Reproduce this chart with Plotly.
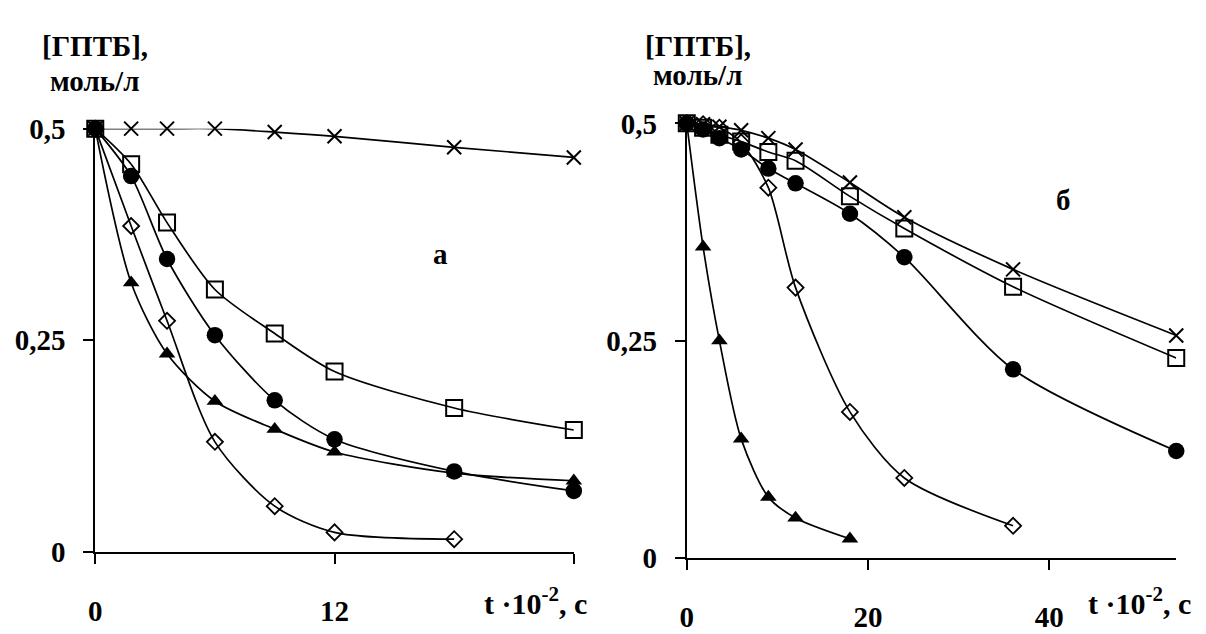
import plotly.graph_objects as go

# ---- data ----
t_a = [0, 1.8, 3.6, 6, 9, 12, 18, 24]
a_cross = [0.5, 0.5, 0.5, 0.5, 0.496, 0.491, 0.478, 0.466]
a_square = [0.5, 0.458, 0.389, 0.31, 0.258, 0.213, 0.17, 0.144]
a_circle = [0.5, 0.444, 0.346, 0.256, 0.179, 0.133, 0.095, 0.072]
a_triangle = [0.5, 0.318, 0.234, 0.178, 0.145, 0.118, 0.093, 0.084]
t_a_diam = [0, 1.8, 3.6, 6, 9, 12, 18]
a_diamond = [0.5, 0.385, 0.273, 0.13, 0.054, 0.023, 0.015]

t_b = [0, 1.8, 3.6, 6, 9, 12, 18, 24, 36, 54]
b_cross = [0.5, 0.499, 0.496, 0.492, 0.483, 0.47, 0.432, 0.392, 0.332, 0.256]
b_square = [0.5, 0.495, 0.487, 0.479, 0.467, 0.457, 0.416, 0.379, 0.312, 0.23]
b_circle = [0.5, 0.493, 0.483, 0.47, 0.448, 0.431, 0.396, 0.346, 0.217, 0.123]
t_b_diam = [0, 1.8, 3.6, 6, 9, 12, 18, 24, 36]
b_diamond = [0.5, 0.499, 0.495, 0.478, 0.426, 0.311, 0.168, 0.092, 0.037]
t_b_tri = [0, 1.8, 3.6, 6, 9, 12, 18]
b_triangle = [0.5, 0.358, 0.25, 0.137, 0.07, 0.046, 0.022]

y_ticks = [0, 0.25, 0.5]
y_ticktext = ["0", "0,25", "0,5"]
xa_ticks = [0, 12, 24]
xa_ticktext = ["0", "12", " "]
xb_ticks = [0, 20, 40]
xb_ticktext = ["0", "20", "40"]

FONT = "Liberation Serif"

fig = go.Figure()

styles = {
    "cross": dict(symbol="x-thin-open", size=14, color="black", line=dict(width=2, color="black")),
    "square": dict(symbol="square-open", size=16, color="black", line=dict(width=2, color="black")),
    "circle": dict(symbol="circle", size=16.5, color="black", line=dict(width=0, color="black")),
    "triangle": dict(symbol="triangle-up", size=14.5, color="black", line=dict(width=0, color="black")),
    "diamond": dict(symbol="diamond-open", size=12.3, color="black", line=dict(width=1.8, color="black")),
}

def add(x, y, kind, xa, ya):
    fig.add_trace(go.Scatter(
        x=x, y=y, mode="lines+markers", xaxis=xa, yaxis=ya,
        line=dict(color="black", width=1.7, shape="spline", smoothing=0.8),
        marker=styles[kind], cliponaxis=False, showlegend=False))

add(t_a, a_cross, "cross", "x", "y")
add(t_a, a_square, "square", "x", "y")
add(t_a, a_circle, "circle", "x", "y")
add(t_a, a_triangle, "triangle", "x", "y")
add(t_a_diam, a_diamond, "diamond", "x", "y")

add(t_b, b_cross, "cross", "x2", "y2")
add(t_b, b_square, "square", "x2", "y2")
add(t_b, b_circle, "circle", "x2", "y2")
add(t_b_diam, b_diamond, "diamond", "x2", "y2")
add(t_b_tri, b_triangle, "triangle", "x2", "y2")

# page body has an 8px default margin; figure occupies 8..1206 x 8..634
W, H, OFF = 1206, 634, 8
FW, FH = W - OFF, H - OFF
def px(v):
    return (v - OFF) / FW
def py(v):
    return (H - v) / FH

tickfont = dict(family=FONT, size=29, color="black", weight="bold")
axis_common = dict(showgrid=False, zeroline=False, showline=True, linecolor="black",
                   linewidth=1.8, ticks="outside", ticklen=10, tickwidth=1.8, tickcolor="black",
                   tickfont=tickfont)

fig.update_layout(
    width=FW, height=FH, margin=dict(l=0, r=0, t=0, b=0),
    paper_bgcolor="white", plot_bgcolor="white",
    font=dict(family=FONT, color="black"),
    xaxis=dict(domain=[px(89), px(572)], range=[0, 24], anchor="y",
               tickvals=xa_ticks, ticktext=xa_ticktext, ticklabelstandoff=22, **axis_common),
    yaxis=dict(domain=[py(564.3), py(118.3)], range=[0, 0.5], anchor="x",
               tickvals=y_ticks, ticktext=y_ticktext, ticklabelstandoff=12, **axis_common),
    xaxis2=dict(domain=[px(686), px(1180)], range=[0, 54], anchor="y2",
                tickvals=xb_ticks, ticktext=xb_ticktext, ticklabelstandoff=22, **axis_common),
    yaxis2=dict(domain=[py(570.7), py(112.7)], range=[0, 0.5], anchor="x2",
                tickvals=y_ticks, ticktext=y_ticktext, ticklabelstandoff=12, **axis_common),
)

def ann(text, x, y, size=29, xanchor="center"):
    fig.add_annotation(text=text, xref="paper", yref="paper", x=px(x), y=py(y),
                       xanchor=xanchor, yanchor="middle", showarrow=False,
                       font=dict(family=FONT, size=size, color="black", weight="bold"))

ann("[ГПТБ],", 89, 31)
ann("моль/л", 88, 68)
ann("[ГПТБ],", 697, 31)
ann("моль/л", 697, 62)
ann("t ·10<sup>-2</sup>, c", 533, 616, size=30)
ann("t ·10<sup>-2</sup>, c", 1143, 616, size=30)

fig.add_annotation(text="а", xref="x", yref="y", x=17.3, y=0.352, showarrow=False,
                   font=dict(family=FONT, size=29, color="black", weight="bold"))
fig.add_annotation(text="б", xref="x2", yref="y2", x=41.6, y=0.412, showarrow=False,
                   font=dict(family=FONT, size=29, color="black", weight="bold"))

fig.write_html("out.html")
